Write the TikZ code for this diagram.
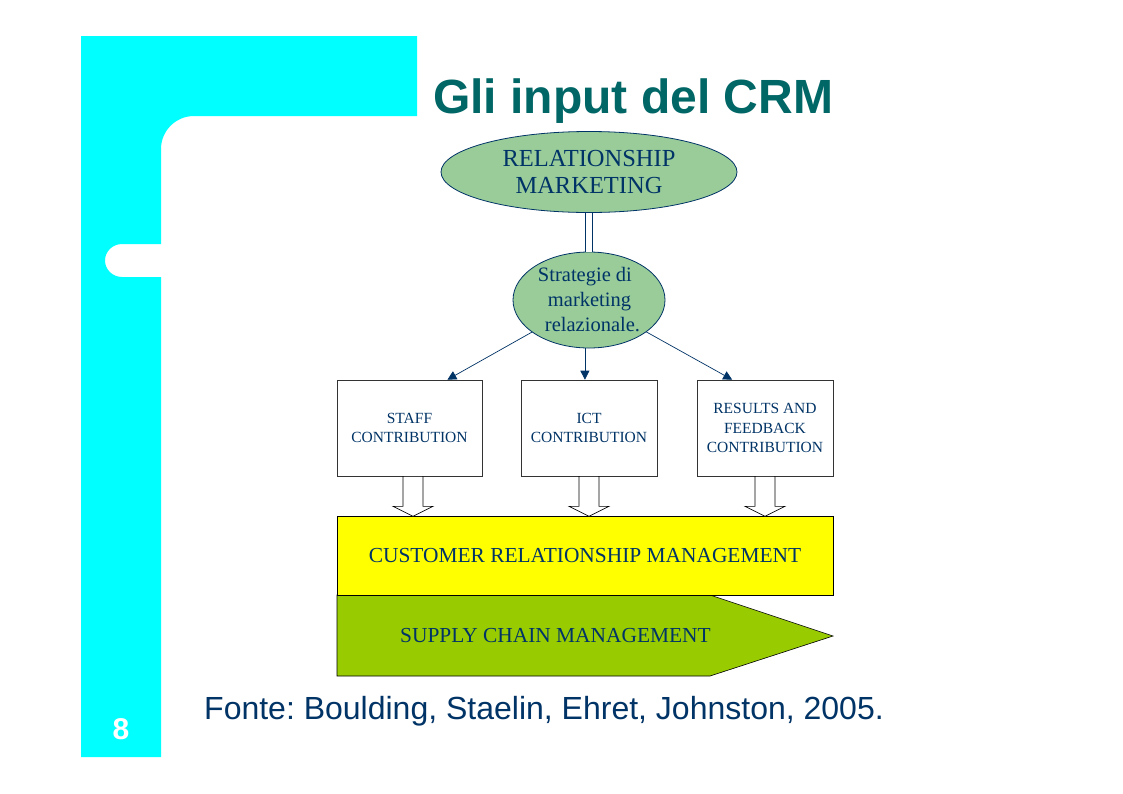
\documentclass[tikz,border=0pt]{standalone}
\usepackage{fontspec}
\setmainfont{Liberation Serif}
\newfontfamily\arialf{Liberation Sans}
\usetikzlibrary{shapes.geometric,arrows.meta,calc}
\definecolor{navy}{HTML}{003366}
\definecolor{teal}{HTML}{006666}
\definecolor{ellgreen}{HTML}{99CC99}
\definecolor{scmgreen}{HTML}{99CC00}
\definecolor{crmyellow}{HTML}{FFFF00}
\definecolor{slidecyan}{HTML}{00FFFF}
\definecolor{boxgray}{HTML}{333333}
\frenchspacing
\tikzset{
  ell/.style={ellipse, draw=navy, line width=0.8pt, fill=ellgreen, text=navy, inner sep=0pt},
  cbox/.style={rectangle, draw=boxgray, line width=0.6pt, fill=white, text=navy, inner sep=0pt, align=center,
    minimum height=96pt, font=\fontsize{15.5}{19.5}\selectfont},
  flow/.style={draw=navy, line width=0.7pt, -{Triangle[length=9pt,width=9pt,fill=navy]}},
  blk/.pic={\draw[fill=white, draw=black, line width=0.6pt]
     (-10,0) -- (-10,30) -- (-20,30) -- (0,40) -- (20,30) -- (10,30) -- (10,0) -- cycle;}
}
\begin{document}
\begin{tikzpicture}[x=1pt,y=-1pt]
\useasboundingbox (0,0) rectangle (1123,793);
\fill[white] (0,0) rectangle (1123,793);
% slide decoration
\fill[slidecyan] (81,36) -- (417,36) -- (417,116) -- (194,116)
  arc[start angle=270, end angle=180, radius=33] -- (161,244) -- (122,244)
  arc[start angle=270, end angle=90, x radius=17, y radius=16.5] -- (161,277)
  -- (161,757) -- (81,757) -- cycle;
\node[text=white, font=\arialf\bfseries\fontsize{30}{30}\selectfont] (num) at (121,729) {8};
% title
\node[anchor=base, text=teal, font=\arialf\bfseries\fontsize{48}{48}\selectfont] (title) at (633,113) {Gli input del CRM};
% ellipses
\node[ell, align=center, minimum width=296pt, minimum height=81pt, font=\fontsize{24.5}{27.5}\selectfont] (rm) at (589,172) {RELATIONSHIP\\MARKETING};
\node[ell, align=left, minimum width=152pt, minimum height=96pt, font=\fontsize{20.5}{25}\selectfont] (se) at (589,300) {Strategie di\\\hspace*{10pt}marketing\\\hspace*{7pt}relazionale.};
\draw[draw=navy, line width=0.8pt, double=white, double distance=6.5pt] (rm.south) -- (se.north);
% boxes
\node[cbox, minimum width=145pt] (b1) at (409.5,428) {STAFF\\CONTRIBUTION};
\node[cbox, minimum width=136pt] (b2) at (589,428) {ICT\\CONTRIBUTION};
\node[cbox, minimum width=136pt] (b3) at (765,428) {RESULTS AND\\FEEDBACK\\CONTRIBUTION};
\coordinate (t1) at ($(b1.north west)!0.76!(b1.north east)$);
\coordinate (t2) at ($(b2.north west)!0.47!(b2.north east)$);
\coordinate (t3) at ($(b3.north west)!0.26!(b3.north east)$);
\draw[flow] (se) -- (t1);
\draw[flow] (se.south -| t2) -- (t2);
\draw[flow] (se) -- (t3);
% SCM and CRM
\fill[scmgreen, draw=black, line width=0.6pt] (337,595) -- (710,595) -- (833,636) -- (710,676) -- (337,676) -- cycle;
\node[text=navy, font=\fontsize{21.4}{21.4}\selectfont] (scm) at (555.5,636) {SUPPLY CHAIN MANAGEMENT};
\node[rectangle, draw=black, line width=0.6pt, fill=crmyellow, text=navy, minimum width=496pt, minimum height=79pt, inner sep=0pt,
  font=\fontsize{21.4}{21.4}\selectfont] (crm) at (585,555.5) {CUSTOMER RELATIONSHIP MANAGEMENT};
% block arrows
\pic at ($(b1.south)+(3.5,0)$) {blk};
\pic at (b2.south) {blk};
\pic at (b3.south) {blk};
% source
\node[anchor=base west, text=navy, font=\arialf\fontsize{32}{32}\selectfont, inner sep=0pt] (src) at (204,719) {Fonte: Boulding, Staelin, Ehret, Johnston, 2005.};
\end{tikzpicture}
\end{document}
